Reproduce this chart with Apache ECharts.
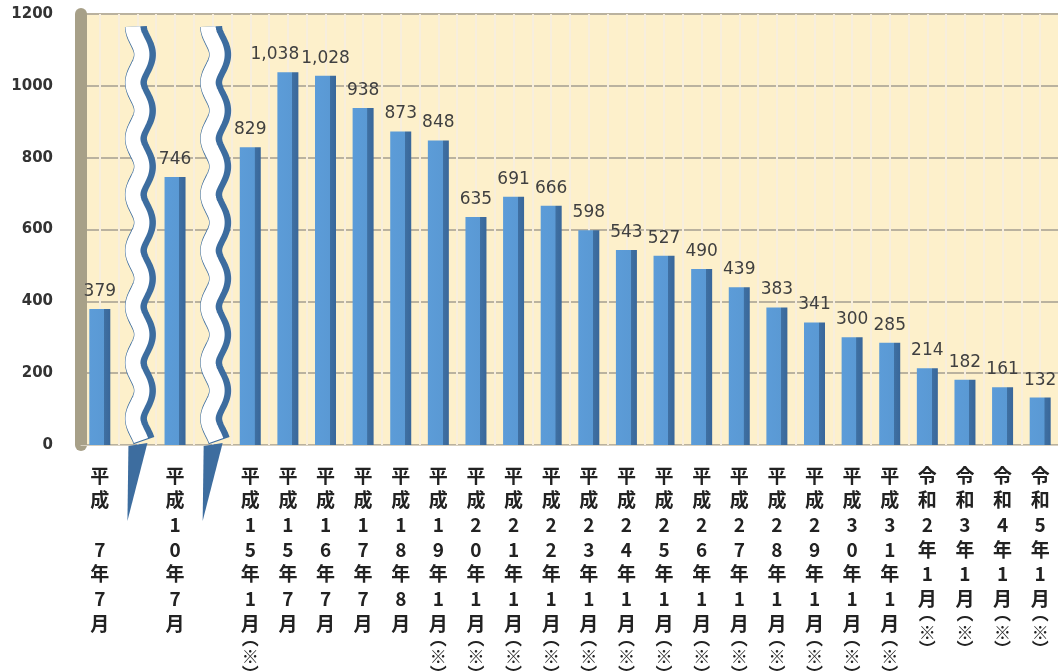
<!DOCTYPE html>
<html>
<head>
<meta charset="utf-8">
<script src="https://cdn.jsdelivr.net/npm/echarts@6/dist/echarts.min.js"></script>
<style>
html,body{margin:0;padding:0;background:#fff;}
#chart{width:1058px;height:671px;}
</style>
</head>
<body>
<div id="chart"></div>
<script>
// ---- data ----
const categories = [
  '平成　7年7月', '平成10年7月', '平成15年1月(※)', '平成15年7月', '平成16年7月',
  '平成17年7月', '平成18年8月', '平成19年1月(※)', '平成20年1月(※)', '平成21年1月(※)',
  '平成22年1月(※)', '平成23年1月(※)', '平成24年1月(※)', '平成25年1月(※)', '平成26年1月(※)',
  '平成27年1月(※)', '平成28年1月(※)', '平成29年1月(※)', '平成30年1月(※)', '平成31年1月(※)',
  '令和2年1月(※)', '令和3年1月(※)', '令和4年1月(※)', '令和5年1月(※)'
];
const values = [379, 746, 829, 1038, 1028, 938, 873, 848, 635, 691, 666, 598, 543, 527, 490, 439, 383, 341, 300, 285, 214, 182, 161, 132];
// axis breaks drawn after these category indices (wavy break marks)
const breakAfter = [0, 1];
const breakTop = 1165;
const yTicks = [0, 200, 400, 600, 800, 1000, 1200];

// ---- build axis slots (break marks occupy their own slot) ----
const slots = [];
const slotValues = [];
const breakSlots = [];
categories.forEach((c, i) => {
  slots.push(c);
  // the 1,038 label sits left of its bar in the original
  slotValues.push(i === 3 ? {value: values[i], label: {offset: [-13, 0]}} : values[i]);
  if (breakAfter.includes(i)) {
    breakSlots.push(slots.length);
    slots.push('');
    slotValues.push('-');
  }
});
const halfSlots = [];
for (let i = 0; i < slots.length * 2; i++) halfSlots.push('');

function verticalLabel(v) {
  if (!v) return '';
  return Array.from(v).map(ch => {
    if (ch === '(') return '{p|︵}';
    if (ch === ')') return '{q|︶}';
    if (ch === '※') return '{s|※}';
    return '{c|' + ch + '}';
  }).join('\n');
}

const chart = echarts.init(document.getElementById('chart'), null, {renderer: 'canvas'});

const barColor = new echarts.graphic.LinearGradient(0, 0, 1, 0, [
  {offset: 0, color: '#5c9cd8'},
  {offset: 0.7, color: '#5a99d4'},
  {offset: 0.71, color: '#3f70a2'},
  {offset: 1, color: '#39679a'}
]);

function renderBreak(params, api) {
  const idx = api.value(0);
  const top = api.coord([idx, api.value(1)]);
  const bot = api.coord([idx, 0]);
  const cx = top[0] + 3;
  const A = 4.5, P = 56;
  const pts = [], pts2 = [];
  for (let y = top[1]; y <= bot[1] - 4; y += 1.5) {
    const x = cx - A * Math.cos(2 * Math.PI * (y - top[1]) / P);
    pts.push([x, y]);
    pts2.push([x - 3, y]);
  }
  const c = top[0];
  return {
    type: 'group',
    children: [
      {type: 'polyline', shape: {points: pts}, style: {stroke: '#3d6d9f', lineWidth: 22, fill: null, lineCap: 'butt', lineJoin: 'round'}},
      {type: 'polyline', shape: {points: pts2}, style: {stroke: '#ffffff', lineWidth: 15, fill: null, lineCap: 'butt', lineJoin: 'round'}},
      {type: 'polygon', shape: {points: [[c - 9, bot[1] + 1], [c + 10, bot[1] - 2], [c - 10, bot[1] + 76]]}, style: {fill: '#3d6d9f'}}
    ]
  };
}

const cjk = {fontFamily: 'Noto Sans CJK JP', fontWeight: 'bold', color: '#222', align: 'center'};

chart.setOption({
  animation: false,
  backgroundColor: '#ffffff',
  grid: {
    left: 81, top: 14, width: 978, height: 431,
    outerBoundsMode: 'none',
    containLabel: false,
    show: true, backgroundColor: '#fdf0cb', borderWidth: 0
  },
  xAxis: [{
    type: 'category',
    data: slots,
    boundaryGap: true,
    axisLine: {show: true, lineStyle: {color: '#d6cfbf', width: 1}},
    axisTick: {show: false},
    splitLine: {show: false},
    axisLabel: {
      interval: 0,
      margin: 18,
      verticalAlign: 'top',
      formatter: verticalLabel,
      rich: {
        c: Object.assign({fontSize: 19, lineHeight: 24.7}, cjk),
        p: Object.assign({fontSize: 17, lineHeight: 5}, cjk),
        s: Object.assign({fontSize: 17, lineHeight: 32}, cjk),
        q: Object.assign({fontSize: 17, lineHeight: 1}, cjk)
      }
    }
  }, {
    type: 'category',
    data: halfSlots,
    position: 'bottom',
    axisLine: {show: false},
    axisTick: {show: false},
    axisLabel: {show: false},
    splitLine: {show: true, lineStyle: {color: '#f7eedd', width: 2}}
  }],
  yAxis: {
    type: 'value',
    min: yTicks[0],
    max: yTicks[yTicks.length - 1],
    interval: yTicks[1] - yTicks[0],
    axisLine: {show: true, lineStyle: {color: '#a7a088', width: 12}},
    axisTick: {show: false},
    splitLine: {show: true, lineStyle: {color: '#bab29f', width: 2}},
    axisLabel: {
      margin: 28,
      fontFamily: 'DejaVu Sans',
      fontSize: 15,
      fontWeight: 'bold',
      color: '#333333',
      padding: [6, 0, 0, 0],
      formatter: v => String(v)
    }
  },
  series: [{
    type: 'bar',
    data: slotValues,
    barWidth: 21,
    itemStyle: {color: barColor},
    label: {
      show: true,
      position: 'top',
      distance: 9,
      fontFamily: 'DejaVu Sans',
      fontSize: 17,
      color: '#404040',
      formatter: p => Number(p.value).toLocaleString('en-US')
    }
  }, {
    type: 'custom',
    data: breakSlots.map(i => [i, breakTop]),
    renderItem: renderBreak,
    clip: false,
    z: 5
  }]
});
</script>
</body>
</html>
